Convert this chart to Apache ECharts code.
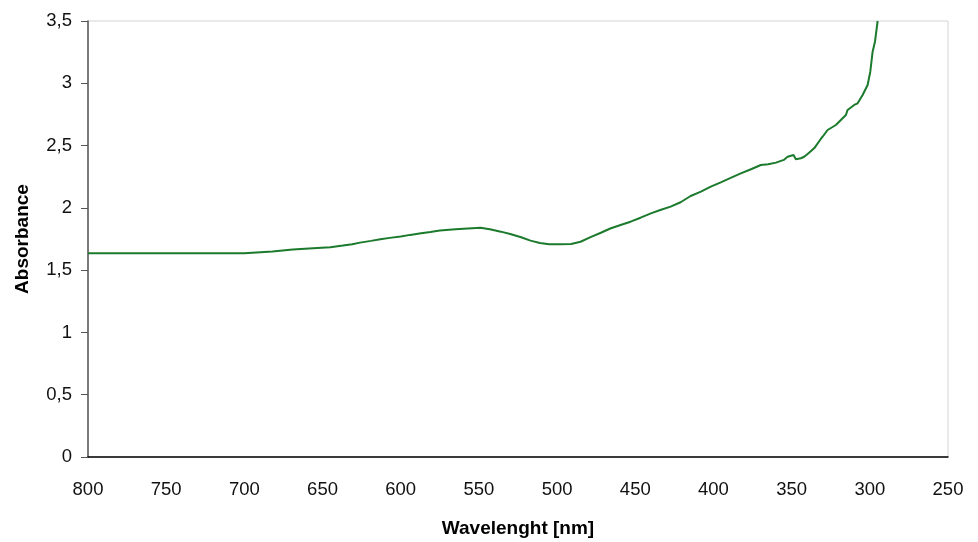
<!DOCTYPE html>
<html>
<head>
<meta charset="utf-8">
<script src="https://cdn.jsdelivr.net/npm/echarts@6/dist/echarts.min.js"></script>
<style>
html,body{margin:0;padding:0;background:#fff;}
#chart{width:978px;height:542px;}
</style>
</head>
<body>
<div id="chart"></div>
<script>
// Wavelength (nm) and absorbance values
const wavelength = [800,750,700,699,682,681,669,668,656,655,645,644,637,636,631,630,626,625,619,618,613,612,607,606,600,599,594,593,587,586,581,580,575,574,565,564,549,543,536,530,523,517,511,505,498,491,485,478.6,472,466,459.4,453,446.6,440,434,427.4,421,414.6,408,401.7,395.3,389,382.5,376,369.7,365,360,355,352.6,348.8,347.3,344.1,342,339.8,335.6,331.8,330.2,327,321.7,318.5,315.3,314.2,310,307.8,304.6,301.4,299.7,298.2,296.7,295];
const absorbance = [1.635,1.635,1.636,1.648,1.649,1.664,1.665,1.675,1.676,1.683,1.684,1.696,1.697,1.707,1.708,1.720,1.721,1.734,1.735,1.747,1.748,1.758,1.759,1.769,1.770,1.782,1.783,1.796,1.797,1.806,1.807,1.817,1.818,1.828,1.829,1.838,1.840,1.828,1.809,1.790,1.764,1.737,1.718,1.708,1.707,1.710,1.728,1.765,1.800,1.834,1.862,1.889,1.921,1.956,1.983,2.010,2.045,2.095,2.130,2.170,2.205,2.240,2.277,2.310,2.344,2.350,2.363,2.385,2.410,2.424,2.390,2.398,2.410,2.432,2.478,2.545,2.571,2.625,2.665,2.705,2.745,2.786,2.826,2.839,2.906,2.986,3.093,3.254,3.334,3.500];
const xTicks = {min: 250, max: 800, interval: 50};
const yTicks = {min: 0, max: 3.5, interval: 0.5};

const chart = echarts.init(document.getElementById('chart'), null, {renderer: 'canvas'});
const seriesData = wavelength.map((w, i) => [w, absorbance[i]]);
const font = 'Liberation Sans, Arial, sans-serif';
chart.setOption({
  animation: false,
  backgroundColor: '#ffffff',
  grid: {left: 88, right: 30, top: 21, bottom: 85, show: true, borderColor: '#d4d4d4', borderWidth: 1,
    backgroundColor: 'transparent', containLabel: false, outerBoundsMode: 'none'},
  xAxis: {
    type: 'value', inverse: true, min: xTicks.min, max: xTicks.max, interval: xTicks.interval,
    name: 'Wavelenght [nm]', nameLocation: 'middle', nameGap: 62,
    nameTextStyle: {fontFamily: font, fontSize: 19, fontWeight: 'bold', color: '#000'},
    axisLine: {show: true, lineStyle: {color: '#000', width: 1.5}},
    axisTick: {show: false},
    splitLine: {show: false},
    axisLabel: {fontFamily: font, fontSize: 18.5, color: '#111', margin: 23}
  },
  yAxis: {
    type: 'value', min: yTicks.min, max: yTicks.max, interval: yTicks.interval,
    name: 'Absorbance', nameLocation: 'middle', nameGap: 56,
    nameTextStyle: {fontFamily: font, fontSize: 19, fontWeight: 'bold', color: '#000'},
    axisLine: {show: true, lineStyle: {color: '#555', width: 1.5}},
    axisTick: {show: true, inside: false, length: 7, lineStyle: {color: '#555'}},
    splitLine: {show: false},
    axisLabel: {fontFamily: font, fontSize: 18.5, color: '#111', margin: 16,
      formatter: v => String(v).replace('.', ',')}
  },
  series: [{
    type: 'line', data: seriesData, showSymbol: false, symbol: 'none',
    lineStyle: {color: '#1b7a2c', width: 2}, clip: true
  }]
});
</script>
</body>
</html>
